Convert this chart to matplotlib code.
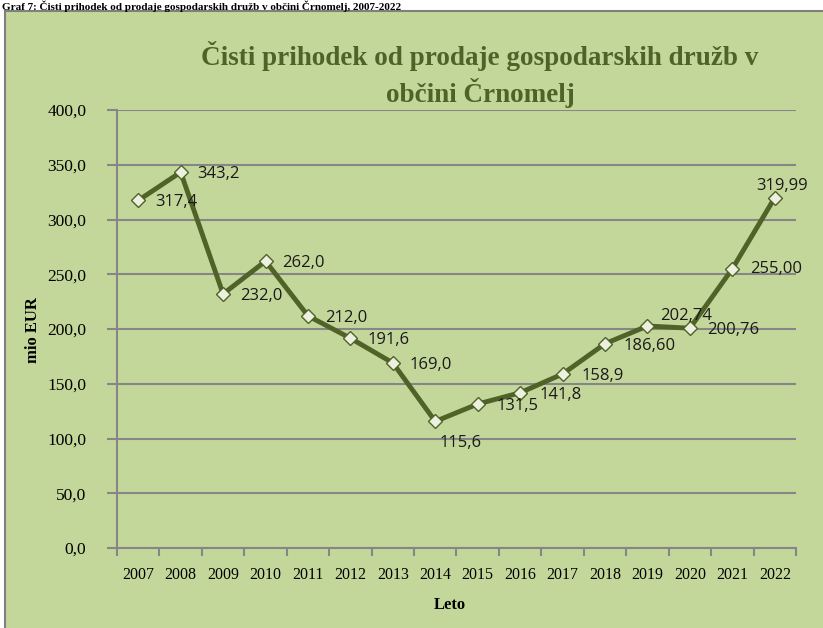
import matplotlib.pyplot as plt
from matplotlib.patches import Rectangle
from matplotlib.ticker import FuncFormatter

# podatki
leta = ["2007", "2008", "2009", "2010", "2011", "2012", "2013", "2014",
        "2015", "2016", "2017", "2018", "2019", "2020", "2021", "2022"]
prihodek = [317.4, 343.2, 232.0, 262.0, 212.0, 191.6, 169.0, 115.6,
            131.5, 141.8, 158.9, 186.60, 202.74, 200.76, 255.00, 319.99]
oznake = ["317,4", "343,2", "232,0", "262,0", "212,0", "191,6", "169,0", "115,6",
          "131,5", "141,8", "158,9", "186,60", "202,74", "200,76", "255,00", "319,99"]
# odmik oznak v pikslih (dx, dy, poravnava)
odmiki = [(17, -2, "left")] * 7 + [(25, -22, "center")] + [(19, -2, "left")] * 4 + \
         [(13, 10, "left"), (17, -2, "left"), (18, 0, "left"), (7, 12, "center")]

zelena = "#c4d79b"
temna = "#4f6228"
siva = "#868686"

fig = plt.figure(figsize=(8.23, 6.28), dpi=100, facecolor="white")

# okvir grafa
fig.patches.append(Rectangle((5 / 823, -0.05), 1.0, 1 - 11 / 628 + 0.05,
                             transform=fig.transFigure, facecolor=zelena,
                             edgecolor="#7f7f7f", linewidth=1.5, zorder=-5))
# napis nad grafom
fig.text(0.002, 1 - 1 / 628, "Graf 7: Čisti prihodek od prodaje gospodarskih družb v občini Črnomelj, 2007-2022",
         ha="left", va="top", fontsize=8, fontweight="bold", family="Liberation Serif")

ax = fig.add_axes([117 / 823, 1 - 548 / 628, (796 - 117) / 823, (548 - 110) / 628])
ax.set_facecolor("none")

x = list(range(len(leta)))
ax.plot(x, prihodek, color=temna, linewidth=3.5, marker="D", markersize=7,
        markerfacecolor="#ebf1de", markeredgecolor=temna, markeredgewidth=1, zorder=3)

for i in range(len(leta)):
    dx, dy, ha = odmiki[i]
    ax.annotate(oznake[i], (x[i], prihodek[i]), xytext=(dx * 0.72, dy * 0.72),
                textcoords="offset points", ha=ha, va="center",
                fontsize=12, family="Open Sans", color="#1a1a1a", zorder=4)

ax.set_xlim(-0.5, len(leta) - 0.5)
ax.set_ylim(0, 400)
ax.set_yticks(range(0, 401, 50))
ax.yaxis.set_major_formatter(FuncFormatter(lambda v, p: ("%.1f" % v).replace(".", ",")))
ax.set_xticks(x)
ax.set_xticklabels(leta)
ax.set_xticks([i - 0.5 for i in range(len(leta) + 1)], minor=True)
ax.tick_params(axis="x", which="major", length=0, pad=14)
ax.tick_params(axis="x", which="minor", length=6, color=siva, width=1.5)
ax.tick_params(axis="y", length=7, color=siva, width=1.5, pad=15)
for lbl in ax.get_xticklabels():
    lbl.set_family("Liberation Serif")
    lbl.set_fontsize(11.5)
for lbl in ax.get_yticklabels():
    lbl.set_family("Liberation Serif")
    lbl.set_fontsize(12.5)

ax.grid(axis="y", color=siva, linewidth=1.5)
ax.set_axisbelow(True)
for s in ["top", "right"]:
    ax.spines[s].set_visible(False)
ax.spines["left"].set_color(siva)
ax.spines["bottom"].set_color(siva)
ax.spines["left"].set_linewidth(1.5)
ax.spines["bottom"].set_linewidth(1.5)

fig.text(480 / 823, 1 - 56 / 628, "Čisti prihodek od prodaje gospodarskih družb v",
         ha="center", va="center", fontsize=19.5, fontweight="bold", color=temna,
         family="Liberation Serif")
fig.text(480 / 823, 1 - 93 / 628, "občini Črnomelj",
         ha="center", va="center", fontsize=19.5, fontweight="bold", color=temna,
         family="Liberation Serif")
fig.text(33 / 823, 1 - 330 / 628, "mio EUR", rotation=90, ha="center", va="center",
         fontsize=12, fontweight="bold", family="Liberation Serif")
fig.text(450 / 823, 1 - 605 / 628, "Leto", ha="center", va="center",
         fontsize=12, fontweight="bold", family="Liberation Serif")

plt.savefig("out.png", dpi=100, facecolor=fig.get_facecolor())
plt.close()
